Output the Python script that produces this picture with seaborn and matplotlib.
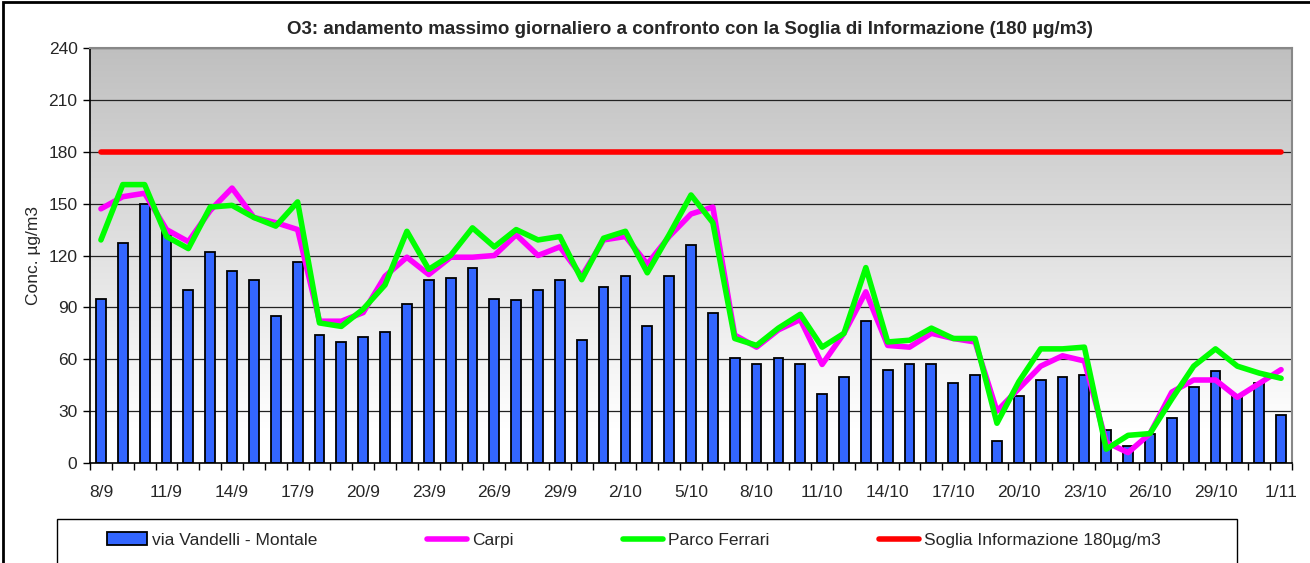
import numpy as np
import pandas as pd
import matplotlib
matplotlib.use("Agg")
import matplotlib.pyplot as plt
import seaborn as sns
from matplotlib.patches import Rectangle
from matplotlib.lines import Line2D
from matplotlib.patches import Patch

# ---- data ----
dates = [f"{d.day}/{d.month}" for d in pd.date_range("2000-09-08", "2000-11-01")]

vandelli = [95, 127, 150, 134, 100, 122, 111, 106, 85, 116,
            74, 70, 73, 76, 92, 106, 107, 113, 95, 94,
            100, 106, 71, 102, 108, 79, 108, 126, 87, 61,
            57, 61, 57, 40, 50, 82, 54, 57, 57, 46,
            51, 13, 39, 48, 50, 51, 19, 10, 17, 26,
            44, 53, 39, 46, 28]

carpi = [147, 154, 156, 135, 128, 146, 159, 142, 139, 135,
         82, 82, 87, 108, 119, 109, 119, 119, 120, 132,
         120, 125, 108, 129, 131, 115, 131, 144, 148, 74,
         67, 77, 83, 57, 75, 99, 68, 67, 75, 72,
         70, 30, 43, 56, 62, 59, 12, 6, 17, 41,
         48, 48, 38, 46, 54]

parco = [129, 161, 161, 131, 124, 148, 149, 142, 137, 151,
         81, 79, 89, 103, 134, 112, 120, 136, 125, 135,
         129, 131, 106, 130, 134, 110, 132, 155, 139, 72,
         68, 78, 86, 67, 75, 113, 70, 71, 78, 72,
         72, 23, 47, 66, 66, 67, 8, 16, 17, 37,
         56, 66, 56, 52, 49]

soglia = 180

yticks = [0, 30, 60, 90, 120, 150, 180, 210, 240]

df = pd.DataFrame({"date": dates, "idx": np.arange(len(dates)),
                   "vandelli": vandelli, "carpi": carpi, "parco": parco,
                   "soglia": [soglia] * len(dates)})

# ---- figure ----
sns.set_theme(style="white")
plt.rcParams["font.family"] = ["Liberation Sans", "DejaVu Sans"]

FS = 12.5
W, H = 1310, 563
fig = plt.figure(figsize=(W / 100, H / 100), dpi=100)
ax = fig.add_axes([90 / W, 1 - 463 / H, (1292 - 90) / W, (463 - 48) / H])

n = len(dates)
ax.set_xlim(-0.5, n - 0.5)
ax.set_ylim(0, 240)

# gradient background
grad = np.linspace(0, 1, 256).reshape(-1, 1)
gray = np.clip((grad * 240 - 20) / 220, 0, 1)
vals = 1 - 0.25 * gray
img = np.dstack([vals, vals, vals])
ax.imshow(img, origin="lower", extent=[-0.5, n - 0.5, 0, 240], aspect="auto", zorder=0)

for y in yticks[1:]:
    ax.axhline(y, color="#222222", lw=0.9, zorder=1)

sns.barplot(data=df, x="idx", y="vandelli", color="#3366FF", width=0.45,
            edgecolor="black", linewidth=1.3, saturation=1, ax=ax, zorder=2,
            native_scale=True)
sns.lineplot(data=df, x="idx", y="carpi", color="#FF00FF", lw=4, ax=ax, zorder=3)
sns.lineplot(data=df, x="idx", y="parco", color="#00FF00", lw=4, ax=ax, zorder=4)
sns.lineplot(data=df, x="idx", y="soglia", color="#FF0000", lw=4, ax=ax, zorder=5)

ax.set_xlim(-0.5, n - 0.5)
ax.set_ylim(0, 240)

ax.set_xticks(np.arange(0, n, 3))
ax.set_xticklabels([dates[i] for i in range(0, n, 3)], fontsize=FS)
ax.set_xticks(np.arange(-0.5, n, 1), minor=True)
ax.tick_params(axis="x", which="major", length=0, pad=16)
ax.tick_params(axis="x", which="minor", length=5, width=1, color="black", direction="out", bottom=True)
ax.set_yticks(yticks)
ax.set_yticklabels([str(v) for v in yticks], fontsize=FS)
ax.tick_params(axis="y", which="major", length=5, width=1, color="black", direction="out", left=True, pad=4)

ax.set_xlabel("")
ax.set_ylabel("Conc. µg/m3", fontsize=FS, labelpad=5)

for s in ["left", "bottom"]:
    ax.spines[s].set_color("black")
    ax.spines[s].set_linewidth(1.2)
for s in ["top", "right"]:
    ax.spines[s].set_color("#888888")
    ax.spines[s].set_linewidth(1.5)

fig.text(690 / W, 1 - 29 / H,
         "O3: andamento massimo giornaliero a confronto con la Soglia di Informazione (180 µg/m3)",
         ha="center", va="center", fontsize=13.5, fontweight="bold")

# legend box
fig.patches.append(Rectangle((57 / W, -0.05), (1237 - 57) / W, (1 - 519 / H) + 0.05,
                             transform=fig.transFigure, fill=False, edgecolor="black", lw=1))
# outer frame
fig.patches.append(Rectangle((3 / W, -0.05), 1.1, 1 - 2 / H + 0.05,
                             transform=fig.transFigure, fill=False, edgecolor="black", lw=2))

handles = [Patch(facecolor="#3366FF", edgecolor="black", lw=1.3),
           Line2D([], [], color="#FF00FF", lw=4),
           Line2D([], [], color="#00FF00", lw=4),
           Line2D([], [], color="#FF0000", lw=4)]
labels = ["via Vandelli - Montale", "Carpi", "Parco Ferrari", "Soglia Informazione 180µg/m3"]
fig.legend(handles, labels, loc="center left", bbox_to_anchor=(107 / W, 1 - 540 / H),
           ncol=4, frameon=False, fontsize=FS, handlelength=2.3, columnspacing=6.3,
           handletextpad=0.3, borderpad=0, borderaxespad=0)

fig.savefig("out.png", dpi=100)
